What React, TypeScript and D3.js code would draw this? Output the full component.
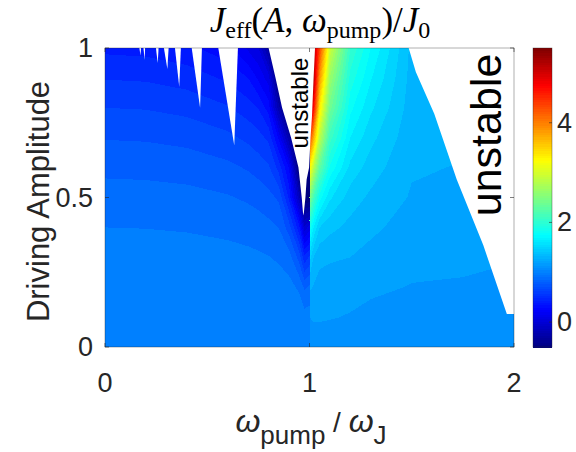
import React from "react";
import * as d3 from "d3";

// ---- data
const amp = [0, 0.1, 0.2, 0.3, 0.4, 0.5, 0.6, 0.7, 0.8, 0.9, 1.0];

// left half (omega < 1): one column of J_eff/J0 per omega, from A = 0 up to A = 1
const leftOmega = [0, 0.2, 0.4, 0.6, 0.7, 0.75, 0.8, 0.85, 0.9, 0.95, 0.975, 1.0];
const leftJ = [
  [1, 0.994, 0.975, 0.944, 0.9, 0.844, 0.775, 0.694, 0.6, 0.494, 0.375],
  [1, 0.994, 0.975, 0.943, 0.898, 0.841, 0.771, 0.689, 0.594, 0.486, 0.365],
  [1, 0.993, 0.973, 0.939, 0.892, 0.832, 0.758, 0.67, 0.569, 0.455, 0.327],
  [1, 0.992, 0.969, 0.931, 0.877, 0.809, 0.724, 0.625, 0.51, 0.38, 0.234],
  [1, 0.991, 0.965, 0.922, 0.862, 0.784, 0.689, 0.576, 0.446, 0.299, 0.08],
  [1, 0.991, 0.962, 0.915, 0.849, 0.763, 0.659, 0.536, 0.395, 0.18, 0.0],
  [1, 0.989, 0.957, 0.904, 0.829, 0.733, 0.615, 0.476, 0.25, 0.05, -0.35],
  [1, 0.987, 0.949, 0.885, 0.796, 0.681, 0.461, 0.175, -0.267, -0.6, -0.6],
  [1, 0.983, 0.932, 0.848, 0.649, 0.377, 0.191, -0.279, -0.6, -0.6, -0.6],
  [1, 0.971, 0.882, 0.655, 0.33, -0.185, -0.6, -0.6, -0.6, -0.6, -0.6],
  [1, 0.946, 0.782, 0.43, -0.07, -0.6, -0.6, -0.6, -0.6, -0.6, -0.6],
  [1, 0.95, 0.82, 0.52, 0.05, -0.6, -0.6, -0.6, -0.6, -0.6, -0.6],
];

// right half (omega > 1)
const rightOmega = [1.0, 1.02, 1.05, 1.1, 1.2, 1.3, 1.5, 1.75, 2.0];
const rightJ = [
  [1, 1.1, 1.22, 1.45, 1.85, 2.5, 3.3, 4.4, 5.15, 5.15, 5.15],
  [1, 1.12, 1.19, 1.3, 1.6, 2.1, 2.8, 3.7, 4.7, 5.15, 5.15],
  [1, 1.12, 1.17, 1.22, 1.4, 1.75, 2.25, 2.8, 3.3, 3.8, 4.3],
  [1, 1.11, 1.16, 1.21, 1.33, 1.52, 1.78, 2.05, 2.35, 2.6, 2.9],
  [1, 1.09, 1.15, 1.2, 1.27, 1.35, 1.47, 1.6, 1.73, 1.86, 2.0],
  [1, 1.07, 1.12, 1.17, 1.22, 1.28, 1.35, 1.43, 1.52, 1.61, 1.7],
  [1, 1.05, 1.095, 1.13, 1.16, 1.19, 1.21, 1.23, 1.25, 1.26, 1.27],
  [1, 1.045, 1.09, 1.12, 1.145, 1.17, 1.195, 1.22, 1.24, 1.26, 1.28],
  [1, 1.04, 1.077, 1.105, 1.125, 1.145, 1.165, 1.185, 1.21, 1.23, 1.25],
];

// unstable regions [omega, A]
const wedge = [
  [0.8, 1], [0.834, 0.9], [0.866, 0.8], [0.91, 0.7], [0.946, 0.6], [0.962, 0.5],
  [0.968, 0.45], [0.971, 0.44], [0.98, 0.5], [0.986, 0.56], [0.998, 0.6],
  [1.005, 0.7], [1.012, 0.77], [1.02, 0.9], [1.027, 1],
];
const rightUnstable = [
  [1.485, 1], [1.52, 0.92], [1.61, 0.78], [1.72, 0.56], [1.85, 0.34], [1.965, 0.11], [2, 0.11], [2, 1],
];
// narrow resonance spikes: [left omega, right omega, tip omega, tip A]
const spikes = [
  [0.168, 0.176, 0.174, 0.975],
  [0.188, 0.196, 0.194, 0.96],
  [0.249, 0.262, 0.258, 0.95],
  [0.288, 0.311, 0.305, 0.93],
  [0.342, 0.371, 0.363, 0.87],
  [0.424, 0.474, 0.465, 0.8],
  [0.554, 0.65, 0.632, 0.675],
];

const xTicks = [0, 1, 2];
const yTicks = [0, 0.5, 1];
const cbarTicks = [0, 2, 4];
const cRange = [-0.5, 5.5];

// ---- layout
const W = 576;
const H = 452;
const plot = { left: 105, right: 514, top: 48, bottom: 347 };
const cbar = { left: 533, width: 19 };

const x = d3.scaleLinear().domain([0, 2]).range([plot.left, plot.right]);
const y = d3.scaleLinear().domain([0, 1]).range([plot.bottom, plot.top]);
const cy = d3.scaleLinear().domain(cRange).range([plot.bottom, plot.top]);

const jet = d3
  .scaleLinear<string>()
  .domain([0, 0.125, 0.375, 0.625, 0.875, 1])
  .range(["#00007f", "#0000ff", "#00ffff", "#ffff00", "#ff0000", "#7f0000"]);
const frac = d3.scaleLinear().domain(cRange).range([0, 1]).clamp(true);
const color = (v: number) => jet(frac(v));

// contour levels every 0.1; a band [L, L + 0.1) takes the colour of its upper level
const step = 0.1;
const levels = d3.range(-6, 56).map((k) => k / 10);

function field(omega: number[], cols: number[][]) {
  const n = omega.length;
  const m = amp.length;
  const values: number[] = [];
  for (let j = 0; j < m; j++) for (let i = 0; i < n; i++) values.push(cols[i][j]);
  const ix = d3.scaleLinear().domain(d3.range(n)).range(omega).clamp(true);
  const iy = d3.scaleLinear().domain(d3.range(m)).range(amp).clamp(true);
  const proj = d3.geoTransform({
    point(px: number, py: number) {
      (this as any).stream.point(x(ix(px - 0.5)), y(iy(py - 0.5)));
    },
  });
  const path = d3.geoPath(proj);
  return d3
    .contours()
    .size([n, m])
    .thresholds(levels)(values)
    .filter((c) => c.coordinates.length > 0)
    .map((c) => ({ d: path(c as any) || "", fill: color(c.value + step) }));
}

const pts = (p: number[][]) => p.map((d) => `${x(d[0])},${y(d[1])}`).join(" ");

export default function App() {
  const left = field(leftOmega, leftJ);
  const right = field(rightOmega, rightJ);
  const cSteps = d3.range(cRange[0], cRange[1], 6 / 128);
  const axisColor = "#262626";
  const sans = "'Liberation Sans', Arial, Helvetica, sans-serif";
  const serif = "'Liberation Serif', 'Times New Roman', serif";

  return (
    <svg
      width={W}
      height={H}
      style={{ position: "absolute", left: 0, top: 0, background: "#fff" }}
    >
      <g shapeRendering="crispEdges">
        {left.map((c, i) => (
          <path key={"l" + i} d={c.d} fill={c.fill} />
        ))}
        {right.map((c, i) => (
          <path key={"r" + i} d={c.d} fill={c.fill} />
        ))}
      </g>

      {/* unstable areas */}
      <polygon points={pts(wedge)} fill="#ffffff" />
      <polygon points={pts(rightUnstable)} fill="#ffffff" />
      {spikes.map((s, i) => (
        <polygon
          key={"s" + i}
          points={pts([[s[0], 1], [s[1], 1], [s[2], s[3]]])}
          fill="#ffffff"
        />
      ))}

      {/* axes box */}
      <rect
        x={plot.left}
        y={plot.top}
        width={plot.right - plot.left}
        height={plot.bottom - plot.top}
        fill="none"
        stroke={axisColor}
        strokeWidth={0.6}
        strokeOpacity={0.6}
      />
      {xTicks.map((t) => (
        <g key={"xt" + t}>
          <line x1={x(t)} x2={x(t)} y1={plot.bottom} y2={plot.bottom - 4} stroke={axisColor} strokeWidth={0.6} />
          <line x1={x(t)} x2={x(t)} y1={plot.top} y2={plot.top + 4} stroke={axisColor} strokeWidth={0.6} />
          <text x={x(t)} y={392} textAnchor="middle" fontFamily={sans} fontSize={27} fill="#262626">
            {t}
          </text>
        </g>
      ))}
      {yTicks.map((t) => (
        <g key={"yt" + t}>
          <line x1={plot.left} x2={plot.left + 4} y1={y(t)} y2={y(t)} stroke={axisColor} strokeWidth={0.6} />
          <line x1={plot.right} x2={plot.right - 4} y1={y(t)} y2={y(t)} stroke={axisColor} strokeWidth={0.6} />
          <text x={93} y={y(t) + 9} textAnchor="end" fontFamily={sans} fontSize={27} fill="#262626">
            {t}
          </text>
        </g>
      ))}

      {/* labels */}
      <text
        transform={`translate(49,${(plot.top + plot.bottom) / 2 + 4}) rotate(-90)`}
        textAnchor="middle"
        fontFamily={sans}
        fontSize={31}
        fill="#262626"
      >
        Driving Amplitude
      </text>
      <text x={311} y={432} textAnchor="middle" fontFamily={sans} fontSize={28} fill="#262626">
        <tspan fontStyle="italic" fontSize={32}>ω</tspan>
        <tspan fontSize={26} dy={12}>pump</tspan>
        <tspan dy={-12}> / </tspan>
        <tspan fontStyle="italic" fontSize={32}>ω</tspan>
        <tspan fontSize={26} dy={12}>J</tspan>
      </text>
      <text x={320} y={32} textAnchor="middle" fontFamily={serif} fontSize={35} fill="#000">
        <tspan fontStyle="italic">J</tspan>
        <tspan fontSize={24} dy={6}>eff</tspan>
        <tspan dy={-6}>(</tspan>
        <tspan fontStyle="italic">A</tspan>
        <tspan>, </tspan>
        <tspan fontStyle="italic">ω</tspan>
        <tspan fontSize={24} dy={6}>pump</tspan>
        <tspan dy={-6}>)/</tspan>
        <tspan fontStyle="italic">J</tspan>
        <tspan fontSize={24} dy={6}>0</tspan>
      </text>

      <text
        transform={`translate(308,103) rotate(-90)`}
        textAnchor="middle"
        fontFamily={sans}
        fontSize={24}
        fill="#000"
      >
        unstable
      </text>
      <text
        transform={`translate(501,135) rotate(-90)`}
        textAnchor="middle"
        fontFamily={sans}
        fontSize={43}
        fill="#000"
      >
        unstable
      </text>

      {/* colorbar */}
      <g shapeRendering="crispEdges">
        {cSteps.map((v, i) => (
          <rect
            key={"cb" + i}
            x={cbar.left}
            width={cbar.width}
            y={cy(v + 6 / 128)}
            height={cy(v) - cy(v + 6 / 128) + 0.5}
            fill={color(v + 3 / 128)}
          />
        ))}
      </g>
      <rect
        x={cbar.left}
        y={plot.top}
        width={cbar.width}
        height={plot.bottom - plot.top}
        fill="none"
        stroke={axisColor}
        strokeWidth={0.6}
        strokeOpacity={0.6}
      />
      {cbarTicks.map((t) => (
        <g key={"ct" + t}>
          <line
            x1={cbar.left + cbar.width}
            x2={cbar.left + cbar.width - 3}
            y1={cy(t)}
            y2={cy(t)}
            stroke={axisColor}
            strokeWidth={0.6}
          />
          <text x={cbar.left + cbar.width + 5} y={cy(t) + 9} fontFamily={sans} fontSize={27} fill="#262626">
            {t}
          </text>
        </g>
      ))}
    </svg>
  );
}
